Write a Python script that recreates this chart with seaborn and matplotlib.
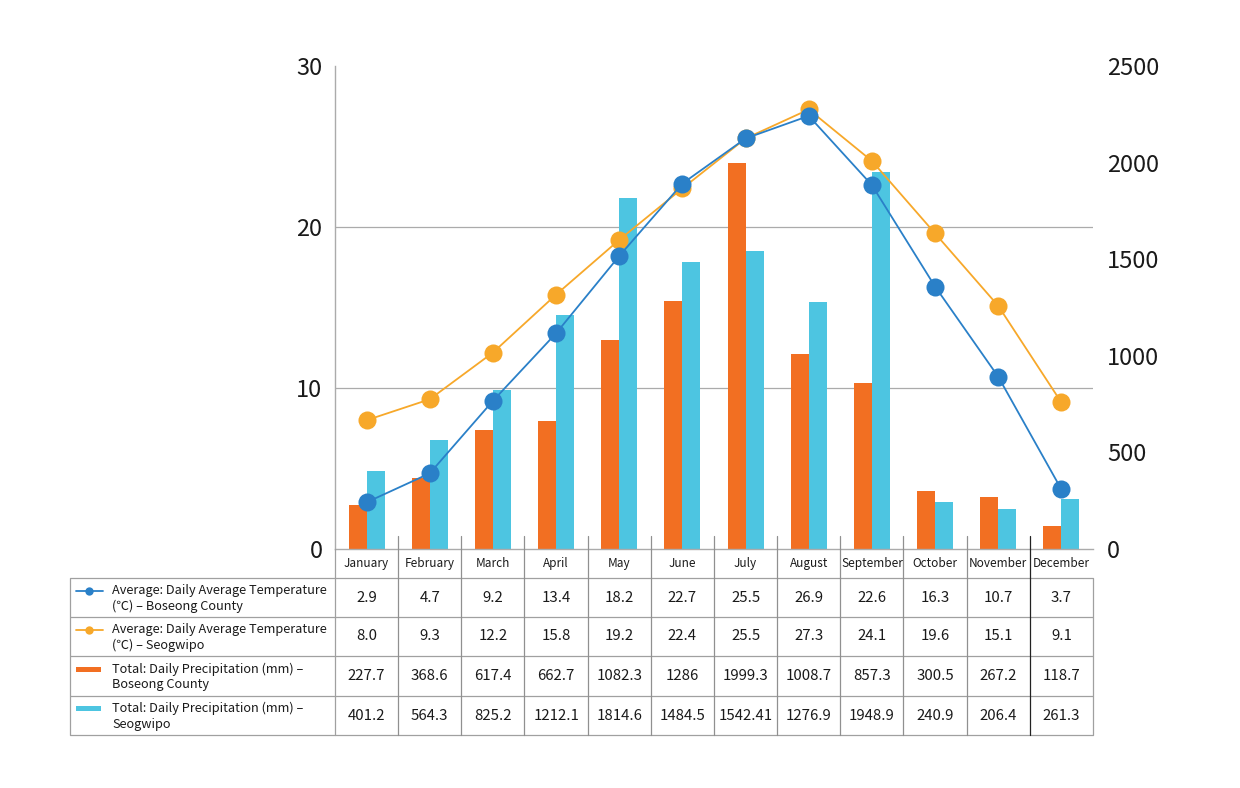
import numpy as np
import pandas as pd
import matplotlib
matplotlib.use("Agg")
import matplotlib.pyplot as plt
from matplotlib.patches import Rectangle
from matplotlib.lines import Line2D
import seaborn as sns

# ---------------- data ----------------
months = ["January", "February", "March", "April", "May", "June", "July",
          "August", "September", "October", "November", "December"]
temp_boseong = [2.9, 4.7, 9.2, 13.4, 18.2, 22.7, 25.5, 26.9, 22.6, 16.3, 10.7, 3.7]
temp_seogwipo = [8.0, 9.3, 12.2, 15.8, 19.2, 22.4, 25.5, 27.3, 24.1, 19.6, 15.1, 9.1]
prec_boseong = [227.7, 368.6, 617.4, 662.7, 1082.3, 1286, 1999.3, 1008.7, 857.3, 300.5, 267.2, 118.7]
prec_seogwipo = [401.2, 564.3, 825.2, 1212.1, 1814.6, 1484.5, 1542.41, 1276.9, 1948.9, 240.9, 206.4, 261.3]

series_names = [
    "Average: Daily Average Temperature\n(\u2103) \u2013 Boseong County",
    "Average: Daily Average Temperature\n(\u2103) \u2013 Seogwipo",
    "Total: Daily Precipitation (mm) \u2013\nBoseong County",
    "Total: Daily Precipitation (mm) \u2013\nSeogwipo",
]
left_ticks = [0, 10, 20, 30]
right_ticks = [0, 500, 1000, 1500, 2000, 2500]

# ---------------- style ----------------
sns.set_theme(style="white")
plt.rcParams["font.family"] = ["Noto Sans CJK KR", "DejaVu Sans"]

C_LINE_BLUE = "#2A80C8"
C_LINE_ORANGE = "#F7A82A"
C_BAR_ORANGE = "#F26F22"
C_BAR_CYAN = "#4DC5E1"
C_GRID = "#ABABAB"
TXT = "#1a1a1a"

W, H = 1240, 788
fig = plt.figure(figsize=(W / 100, H / 100), dpi=100)
fig.patch.set_facecolor("white")

# plot area in pixels
PL, PR, PT, PB = 335, 1093, 66, 549
rect = [PL / W, 1 - PB / H, (PR - PL) / W, (PB - PT) / H]

ymax_l, ymax_r = left_ticks[-1], right_ticks[-1]

# ---------------- bars (right scale) ----------------
ax_bar = fig.add_axes(rect)
df_bar = pd.DataFrame({
    "month": months * 2,
    "value": prec_boseong + prec_seogwipo,
    "series": [series_names[2]] * 12 + [series_names[3]] * 12,
})
sns.barplot(data=df_bar, x="month", y="value", hue="series", order=months,
            hue_order=series_names[2:], palette=[C_BAR_ORANGE, C_BAR_CYAN],
            width=0.57, saturation=1, legend=False, ax=ax_bar, linewidth=0,
            zorder=2)
ax_bar.set_xlim(-0.5, len(months) - 0.5)
ax_bar.set_ylim(0, ymax_r)
ax_bar.set_yticks(right_ticks)
ax_bar.set_yticks([t * ymax_r / ymax_l for t in left_ticks[1:]], minor=True)
ax_bar.yaxis.grid(True, which="minor", color=C_GRID, linewidth=0.9)
ax_bar.yaxis.grid(False, which="major")
ax_bar.set_axisbelow(True)
ax_bar.yaxis.tick_right()
ax_bar.tick_params(axis="y", which="both", length=0, labelsize=17,
                   labelcolor=TXT, pad=10)
ax_bar.set_xticks([])
ax_bar.set_xlabel("")
ax_bar.set_ylabel("")
for s in ["top", "right"]:
    ax_bar.spines[s].set_visible(False)
for s in ["left", "bottom"]:
    ax_bar.spines[s].set_color(C_GRID)
    ax_bar.spines[s].set_linewidth(1.0)

# ---------------- lines (left scale) ----------------
ax_line = fig.add_axes(rect)
ax_line.patch.set_visible(False)
for vals, col in [(temp_seogwipo, C_LINE_ORANGE), (temp_boseong, C_LINE_BLUE)]:
    sns.pointplot(x=months, y=vals, order=months, color=col, markers="o",
                  markersize=13, linewidth=1.3, markeredgewidth=0,
                  errorbar=None, ax=ax_line)
ax_line.set_xlim(-0.5, len(months) - 0.5)
ax_line.set_ylim(0, ymax_l)
ax_line.set_yticks(left_ticks)
ax_line.tick_params(axis="y", length=0, labelsize=17, labelcolor=TXT, pad=9)
ax_line.set_xticks([])
ax_line.set_xlabel("")
ax_line.set_ylabel("")
for s in ax_line.spines.values():
    s.set_visible(False)

# ---------------- data table ----------------
TL, TT, TB = 70, 536, 735
col_w = (PR - PL) / len(months)
x_left = -0.5 - (PL - TL) / col_w
ax_tab = fig.add_axes([TL / W, 1 - TB / H, (PR - TL) / W, (TB - TT) / H])
ax_tab.set_xlim(x_left, len(months) - 0.5)
ax_tab.set_ylim(TB - TT, 0)
ax_tab.axis("off")

def py(p):  # figure pixel row -> table axis y
    return p - TT

row_edges = [578, 617, 656, 696, 735]
lw = 0.9
C_TAB = "#A0A0A0"
# horizontal lines
for e in row_edges:
    ax_tab.plot([x_left, len(months) - 0.5], [py(e), py(e)], color=C_TAB,
                lw=lw, clip_on=False, solid_capstyle="butt")
# left border
ax_tab.plot([x_left, x_left], [py(row_edges[0]), py(TB)], color=C_TAB, lw=lw, clip_on=False)
# label column / plot left edge
ax_tab.plot([-0.5, -0.5], [py(PB), py(TB)], color=C_TAB, lw=lw, clip_on=False)
# right border
ax_tab.plot([len(months) - 0.5] * 2, [py(row_edges[0]), py(TB)], color=C_TAB, lw=lw, clip_on=False)
# month separators, extending slightly above the axis
for i in range(len(months) - 1):
    col = "#222222" if i == len(months) - 2 else "#909090"
    ax_tab.plot([i + 0.5, i + 0.5], [0, py(TB)], color=col, lw=lw, clip_on=False)

# month header
hdr_y = (py(PB) + py(row_edges[0])) / 2
for i, m in enumerate(months):
    ax_tab.text(i, hdr_y, m, ha="center", va="center", fontsize=8.5, color=TXT)

# rows
all_vals = [temp_boseong, temp_seogwipo, prec_boseong, prec_seogwipo]
sample_x0 = x_left + 6 / col_w
sample_x1 = x_left + 33 / col_w
text_x = x_left + 42 / col_w
for r, (name, vals) in enumerate(zip(series_names, all_vals)):
    top, bot = py(row_edges[r]), py(row_edges[r + 1])
    yc = (top + bot) / 2
    for i, v in enumerate(vals):
        ax_tab.text(i, yc, f"{v}", ha="center", va="center", fontsize=10.8, color=TXT)
    ax_tab.text(text_x, yc + 1, name, ha="left", va="center", fontsize=9.2,
                color=TXT, linespacing=1.25)
    ys = yc - 7
    if r < 2:
        col = C_LINE_BLUE if r == 0 else C_LINE_ORANGE
        ax_tab.add_line(Line2D([sample_x0, sample_x1], [ys, ys], color=col, lw=1.3,
                               clip_on=False))
        ax_tab.add_line(Line2D([(sample_x0 + sample_x1) / 2], [ys], marker="o",
                               markersize=6, color=col, markeredgewidth=0, clip_on=False))
    else:
        col = C_BAR_ORANGE if r == 2 else C_BAR_CYAN
        ax_tab.add_patch(Rectangle((sample_x0, ys - 2.5), (sample_x1 - sample_x0) * 0.92, 5,
                                   color=col, clip_on=False, lw=0))

fig.savefig("out.png", dpi=100, facecolor="white")
